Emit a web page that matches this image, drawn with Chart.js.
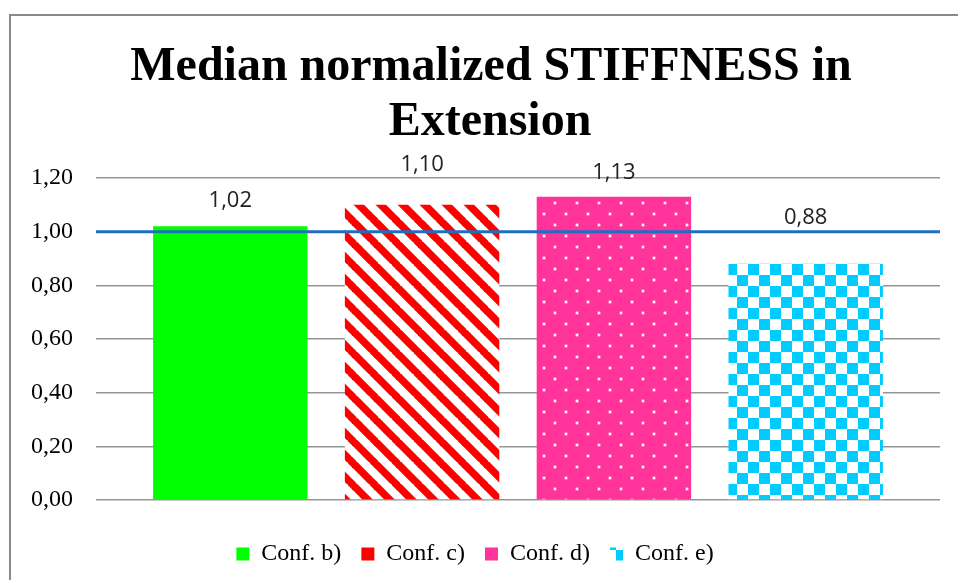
<!DOCTYPE html>
<html>
<head>
  <title>Median normalized stiffness</title>
  <script src="https://cdn.jsdelivr.net/npm/chart.js"></script>
  <style>
    html, body { margin: 0; padding: 0; background: #fff; }
    #wrap { position: relative; width: 958px; height: 580px; }
  </style>
</head>
<body>
  <div id="wrap"><canvas id="stiffChart" width="958" height="580"></canvas></div>

  <script>
    // data
    const categories = ['Conf. b)', 'Conf. c)', 'Conf. d)', 'Conf. e)'];
    const medianStiffness = [1.02, 1.10, 1.13, 0.88];
    const yTicks = [0, 0.2, 0.4, 0.6, 0.8, 1.0, 1.2];
    const referenceValue = 1.0;
    const titleLines = ['Median normalized STIFFNESS in', 'Extension'];

    function makeTile(draw) {
      const c = document.createElement('canvas');
      c.width = 22; c.height = 22;
      const g = c.getContext('2d');
      draw(g);
      return document.createElement('canvas').getContext('2d').createPattern(c, 'repeat');
    }

    const redStripes = makeTile(g => {
      g.fillStyle = '#fff';
      g.fillRect(0, 0, 22, 22);
      g.strokeStyle = '#ff0000';
      g.lineWidth = 7.5;
      [-22, 0, 22].forEach(o => {
        g.beginPath();
        g.moveTo(o - 2, -2);
        g.lineTo(o + 24, 24);
        g.stroke();
      });
    });

    const pinkDots = makeTile(g => {
      g.fillStyle = '#ff3399';
      g.fillRect(0, 0, 22, 22);
      g.fillStyle = '#ffb3d9';
      g.fillRect(3.5, 3.5, 3, 3);
      g.fillRect(14.5, 14.5, 3, 3);
      g.fillStyle = '#fff';
      g.fillRect(4, 4, 2, 2);
      g.fillRect(15, 15, 2, 2);
    });

    const cyanChecks = makeTile(g => {
      g.fillStyle = '#fff';
      g.fillRect(0, 0, 22, 22);
      g.fillStyle = '#00ccff';
      g.fillRect(0, 0, 11, 11);
      g.fillRect(11, 11, 11, 11);
    });

    const barFills = ['#00ff00', redStripes, pinkDots, cyanChecks];
    const legendFills = ['#00ff00', '#ff0000', '#ff3399', cyanChecks];
    const labelLift = [26, 40, 24, 46];

    const frame = {
      id: 'frame',
      beforeDraw(chart) {
        const ctx = chart.ctx;
        ctx.save();
        ctx.fillStyle = '#fff';
        ctx.fillRect(0, 0, chart.width, chart.height);
        ctx.strokeStyle = '#8a8a8a';
        ctx.lineWidth = 2;
        ctx.beginPath();
        ctx.moveTo(10, 580);
        ctx.lineTo(10, 15);
        ctx.lineTo(958, 15);
        ctx.stroke();
        ctx.restore();
      }
    };

    const titleAndLabels = {
      id: 'titleAndLabels',
      afterDatasetsDraw(chart) {
        const ctx = chart.ctx;
        const y = chart.scales.y;
        const area = chart.chartArea;

        // reference line at 1.00
        const ry = y.getPixelForValue(referenceValue);
        ctx.save();
        ctx.strokeStyle = '#1f6fbf';
        ctx.lineWidth = 3;
        ctx.beginPath();
        ctx.moveTo(area.left, ry);
        ctx.lineTo(area.right, ry);
        ctx.stroke();

        // value labels
        ctx.fillStyle = '#222';
        ctx.font = '22px "Open Sans"';
        ctx.textAlign = 'center';
        ctx.textBaseline = 'middle';
        chart.getDatasetMeta(0).data.forEach((bar, i) => {
          const txt = medianStiffness[i].toFixed(2).replace('.', ',');
          ctx.fillText(txt, bar.x, bar.y - labelLift[i]);
        });

        // title
        ctx.fillStyle = '#000';
        ctx.font = 'bold 48px "Liberation Serif"';
        ctx.fillText(titleLines[0], 491, 68);
        ctx.fillText(titleLines[1], 490, 123);
        ctx.restore();
      }
    };

    new Chart(document.getElementById('stiffChart'), {
      type: 'bar',
      data: {
        labels: categories,
        datasets: [{
          data: medianStiffness.map((v, i) => ({ x: i, y: v })),
          backgroundColor: barFills,
          borderWidth: 0,
          categoryPercentage: 1,
          barPercentage: 0.805
        }]
      },
      options: {
        responsive: false,
        animation: false,
        devicePixelRatio: 1,
        layout: { padding: { left: 10, right: 18, top: 178, bottom: 4 } },
        plugins: {
          title: { display: false },
          tooltip: { enabled: false },
          legend: {
            position: 'bottom',
            labels: {
              boxWidth: 13,
              boxHeight: 13,
              padding: 20,
              color: '#000',
              font: { family: '"Liberation Serif"', size: 24 },
              generateLabels: chart => categories.map((name, i) => ({
                text: name,
                fillStyle: legendFills[i],
                strokeStyle: 'rgba(0,0,0,0)',
                lineWidth: 0,
                index: i
              }))
            }
          }
        },
        scales: {
          x: {
            type: 'linear',
            min: -0.7,
            max: 3.7,
            offset: false,
            afterBuildTicks: s => { s.ticks = categories.map((c, i) => ({ value: i })); },
            grid: { display: false },
            border: { display: false },
            ticks: { display: false },
            afterFit: s => { s.height = 22; }
          },
          y: {
            min: 0,
            max: 1.2,
            afterBuildTicks: s => { s.ticks = yTicks.map(v => ({ value: v })); },
            afterFit: s => { s.width = 86; },
            grid: { color: '#959595', lineWidth: 1.5, drawTicks: false },
            border: { display: false },
            ticks: {
              padding: 23,
              color: '#000',
              font: { family: '"Liberation Serif"', size: 24 },
              callback: v => v.toFixed(2).replace('.', ',')
            }
          }
        }
      },
      plugins: [frame, titleAndLabels]
    });
  </script>
</body>
</html>
